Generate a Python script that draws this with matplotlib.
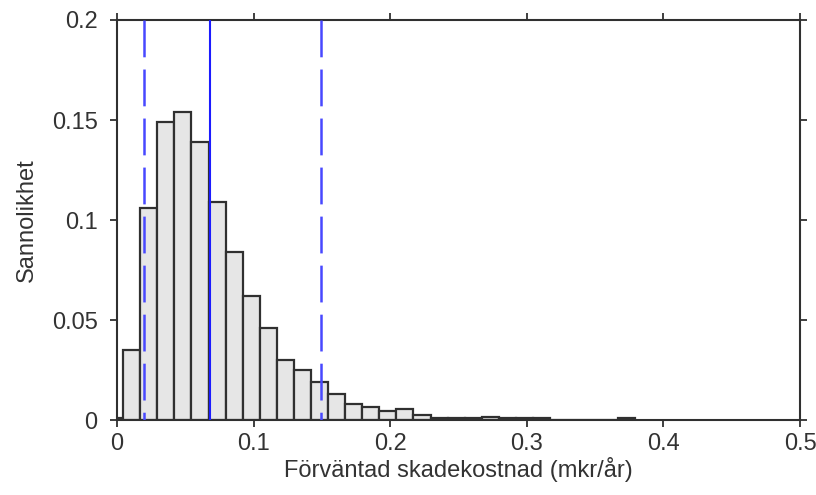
import numpy as np
import matplotlib
matplotlib.use('Agg')
import matplotlib.pyplot as plt

plt.rcParams['font.family'] = ['Liberation Sans', 'DejaVu Sans']
plt.rcParams['lines.scale_dashes'] = False

# Histogram: bin width and start, heights
bin_width = 0.0125
bin_start = -0.008
probabilities = [0.0008, 0.035, 0.106, 0.149, 0.154, 0.139, 0.109, 0.084, 0.062,
                 0.046, 0.030, 0.025, 0.019, 0.013, 0.008, 0.0067, 0.0045, 0.0053,
                 0.0025, 0.0008, 0.0008, 0.0008, 0.0015, 0.001, 0.001, 0.001,
                 0.0, 0.0, 0.0, 0.0, 0.001]

# Vertical reference lines (lower, mean, upper)
solid_line = 0.068
dashed_lines = [0.0198, 0.149]

x_ticks = [0, 0.1, 0.2, 0.3, 0.4, 0.5]
y_ticks = [0, 0.05, 0.1, 0.15, 0.2]
x_ticklabels = ['0', '0.1', '0.2', '0.3', '0.4', '0.5']
y_ticklabels = ['0', '0.05', '0.1', '0.15', '0.2']

txt = '#333333'

fig = plt.figure(figsize=(8.16, 4.95), dpi=100)
ax = fig.add_axes([0.1434, 0.1515, 0.837, 0.8081])

lefts = bin_start + bin_width * np.arange(len(probabilities))
ax.bar(lefts, probabilities, width=bin_width, align='edge',
       color='#e6e6e6', edgecolor='#303030', linewidth=1.6, zorder=2)

# dashed lines drawn from the top down so the pattern starts with a dash at the top
for xv in dashed_lines:
    ax.plot([xv, xv], [0.2, 0], color='#4848ff', linewidth=1.8,
            dashes=(26.5, 8.8), zorder=3)
ax.axvline(solid_line, color='#1c1cff', linewidth=1.5, zorder=3)

ax.set_xlim(0, 0.5)
ax.set_ylim(0, 0.2)
ax.set_xticks(x_ticks)
ax.set_xticklabels(x_ticklabels)
ax.set_yticks(y_ticks)
ax.set_yticklabels(y_ticklabels)
ax.tick_params(direction='out', length=5, width=1.3, colors='#303030',
               labelcolor=txt, labelsize=17, top=True, right=True,
               labeltop=False, labelright=False)
ax.tick_params(axis='x', pad=4)
ax.tick_params(axis='y', pad=9)

for s in ax.spines.values():
    s.set_color('#303030')
    s.set_linewidth(1.5)

ax.set_xlabel('Förväntad skadekostnad (mkr/år)', fontsize=17, color=txt, labelpad=2)
ax.set_ylabel('Sannolikhet', fontsize=17, color=txt, labelpad=10)

fig.savefig('out.png', dpi=100)
